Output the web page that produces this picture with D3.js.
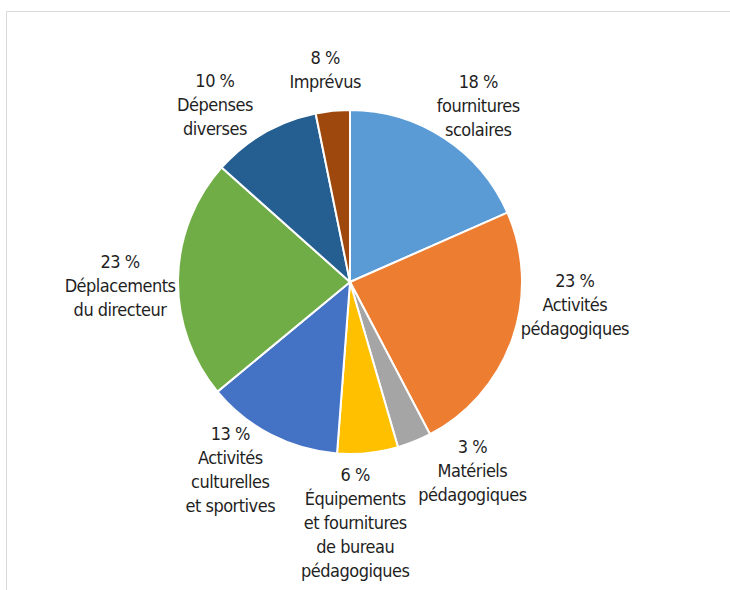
<!DOCTYPE html>
<html>
<head>
<meta charset="utf-8">
<script src="https://d3js.org/d3.v7.min.js"></script>
<style>
  body { margin: 0; background: #fff; }
  text { font-family: "Liberation Sans Narrow", "DejaVu Sans Condensed", "Arial Narrow", sans-serif; fill: #1f1f1f; letter-spacing: -0.5px; }
</style>
</head>
<body>
<svg id="chart" width="730" height="590"></svg>
<script>
    // slices, clockwise from 12 o'clock
    const categories = [
        "fournitures\nscolaires",
        "Activités\npédagogiques",
        "Matériels\npédagogiques",
        "Équipements\net fournitures\nde bureau\npédagogiques",
        "Activités\nculturelles\net sportives",
        "Déplacements\ndu directeur",
        "Dépenses\ndiverses",
        "Imprévus"
    ];
    // shares as drawn by the slices
    const values = [18.4, 23.9, 3.2, 5.7, 12.8, 22.6, 10.2, 3.2];
    // percentages as printed on the labels
    const pctLabels = ["18 %", "23 %", "3 %", "6 %", "13 %", "23 %", "10 %", "8 %"];

    const colors = ["#5b9bd5", "#ed7d31", "#a5a5a5", "#ffc000", "#4472c4", "#70ad47", "#255e91", "#9e480e"];

    // label placement: angle shift (deg) from the slice middle, distance from centre
    const labelShift = [2.9, -13.5, -11, 4.7, 5.1, -2.1, -7.4, -0.9];
    const labelDist = [218, 226, 225, 241, 223, 230, 223, 214];

    const cx = 350, cy = 282, radius = 172;
    const lineH = 24;

    const svg = d3.select("#chart");

    // frame
    svg.append("path")
        .attr("d", "M6.5,590 V11.5 H730")
        .attr("fill", "none")
        .attr("stroke", "#d9d9d9")
        .attr("stroke-width", 1);

    const pie = d3.pie().sort(null).value(d => d.value);
    const arcs = pie(values.map((v, i) => ({ value: v, i: i })));

    const arc = d3.arc().innerRadius(0).outerRadius(radius);

    const g = svg.append("g").attr("transform", `translate(${cx},${cy})`);

    g.selectAll("path")
        .data(arcs)
        .join("path")
        .attr("d", arc)
        .attr("fill", d => colors[d.data.i])
        .attr("stroke", "#fff")
        .attr("stroke-width", 2)
        .attr("stroke-linejoin", "round");

    const label = g.selectAll("text")
        .data(arcs)
        .join("text")
        .attr("text-anchor", "middle")
        .attr("font-size", 18)
        .attr("transform", d => {
            const i = d.data.i;
            const a = (d.startAngle + d.endAngle) / 2 + labelShift[i] * Math.PI / 180;
            const r = labelDist[i];
            return `translate(${Math.sin(a) * r},${-Math.cos(a) * r})`;
        });

    label.selectAll("tspan")
        .data(d => [pctLabels[d.data.i]].concat(categories[d.data.i].split("\n")))
        .join("tspan")
        .attr("x", 0)
        .attr("y", (d, i, nodes) => (i - (nodes.length - 1) / 2) * lineH)
        .attr("dy", "0.35em")
        .text(d => d);
</script>
</body>
</html>
